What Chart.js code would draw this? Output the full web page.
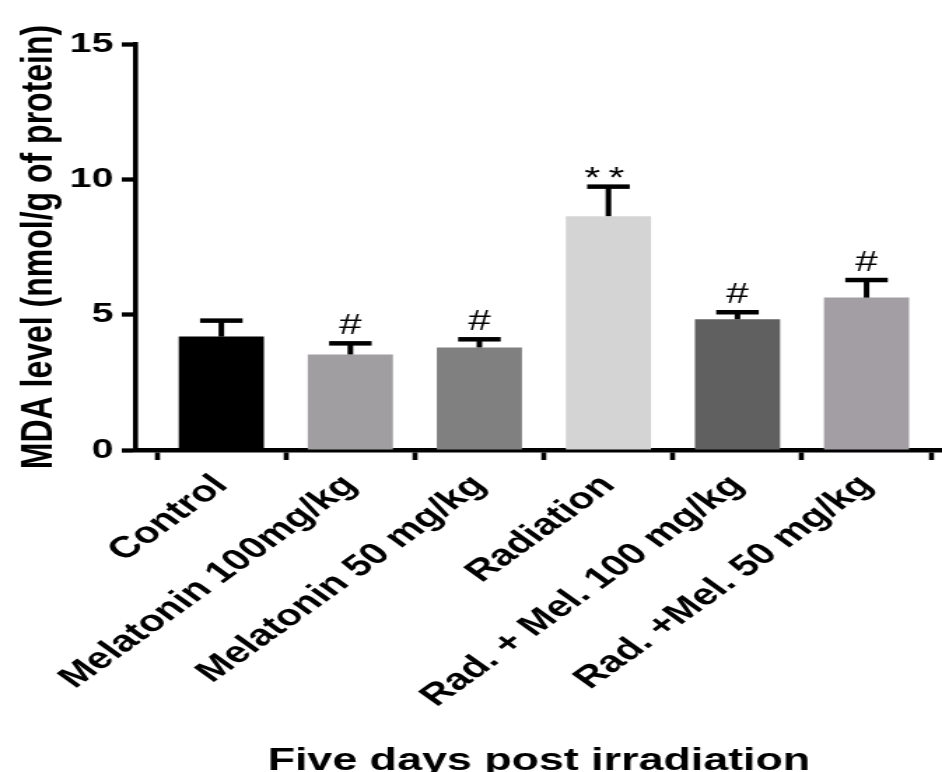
<!doctype html>
<html>
<head>
<meta charset="utf-8"/>
<title>MDA level</title>
<script src="https://cdn.jsdelivr.net/npm/chart.js@4.4.0/dist/chart.umd.min.js"></script>
<style>
  html,body{margin:0;padding:0;background:#fff;overflow:hidden}
  /* the figure is stretched horizontally, so draw narrow and scale it */
  .wrap{width:673px;height:772px;transform:scaleX(1.39970);transform-origin:0 0}
</style>
</head>
<body>
<div class="wrap"><canvas id="chart" width="673" height="772"></canvas></div>
<script>
  const categories = ['Control', 'Melatonin 100mg/kg', 'Melatonin 50 mg/kg', 'Radiation', 'Rad. + Mel. 100 mg/kg', 'Rad. +Mel. 50 mg/kg'];
  const means = [4.19, 3.53, 3.79, 8.64, 4.83, 5.63];
  const sem = [0.59, 0.41, 0.30, 1.09, 0.26, 0.65];
  const marks = ['', '#', '#', '**', '#', '#'];
  const barColors = ['#000000', '#a19ea2', '#808080', '#d4d4d4', '#606060', '#a29ea3'];
  const yTicks = [0, 5, 10, 15];

  const FONT = '"Liberation Sans", Arial, Helvetica, sans-serif';

  // SEM bars (upper only) and significance marks
  const errorBars = {
    id: 'errorBars',
    afterDatasetsDraw(chart) {
      const { ctx, scales: { y } } = chart;
      const meta = chart.getDatasetMeta(0);
      ctx.save();
      ctx.strokeStyle = '#000';
      ctx.fillStyle = '#000';
      means.forEach((m, i) => {
        const bar = meta.data[i];
        const px = bar.x;
        const yTop = y.getPixelForValue(m);
        const yCap = y.getPixelForValue(m + sem[i]);
        const half = bar.width / 4;
        ctx.lineWidth = 4;
        ctx.beginPath(); ctx.moveTo(px, yTop); ctx.lineTo(px, yCap); ctx.stroke();
        ctx.lineWidth = 4.5;
        ctx.beginPath(); ctx.moveTo(px - half, yCap); ctx.lineTo(px + half, yCap); ctx.stroke();
        if (marks[i]) {
          ctx.font = '29px ' + FONT;
          ctx.textAlign = 'center';
          ctx.textBaseline = 'alphabetic';
          ctx.letterSpacing = marks[i].length > 1 ? '6px' : '0px';
          const mt = ctx.measureText(marks[i]);
          ctx.fillText(marks[i], px, yCap - 9 - mt.actualBoundingBoxDescent);
        }
      });
      ctx.restore();
    }
  };

  new Chart(document.getElementById('chart'), {
    type: 'bar',
    data: {
      datasets: [{
        data: means.map((v, i) => ({ x: i, y: v })),
        backgroundColor: barColors,
        borderWidth: 0,
        barPercentage: 0.66,
        categoryPercentage: 1
      }]
    },
    options: {
      responsive: false,
      animation: false,
      devicePixelRatio: 1,
      layout: { padding: { top: 44, left: 0, right: 0, bottom: 0 } },
      plugins: { legend: { display: false }, tooltip: { enabled: false } },
      scales: {
        x: {
          type: 'linear',
          min: -0.663,
          max: 5.585,
          offset: false,
          afterBuildTicks: s => { s.ticks = categories.map((c, i) => ({ value: i })); },
          afterFit: s => { s.height = 322; },
          ticks: {
            callback: v => categories[v],
            autoSkip: false, maxRotation: 45, minRotation: 45,
            color: '#000', padding: 8,
            font: { family: FONT, size: 30, weight: 'bold' }
          },
          grid: { display: true, drawOnChartArea: false, drawTicks: true, tickLength: 10, tickWidth: 3.6, tickColor: '#000' },
          border: { display: true, color: '#000', width: 4.5 },
          title: {
            display: true, text: 'Five days post irradiation', color: '#000',
            font: { family: FONT, size: 32, weight: 'bold' },
            padding: { top: 0, bottom: -8 }
          }
        },
        y: {
          min: 0, max: 15,
          afterBuildTicks: s => { s.ticks = yTicks.map(v => ({ value: v })); },
          afterFit: s => { s.width = 97; },
          ticks: { color: '#000', padding: 6, font: { family: FONT, size: 28, weight: 'bold' } },
          grid: { display: true, drawOnChartArea: false, drawTicks: true, tickLength: 10, tickWidth: 4.3, tickColor: '#000' },
          border: { display: true, color: '#000', width: 3.6 },
          title: {
            display: true, text: 'MDA level (nmol/g of protein)', color: '#000',
            font: { family: FONT, size: 32, weight: 'bold' },
            padding: { top: 9, bottom: 0 }
          }
        }
      }
    },
    plugins: [errorBars]
  });
</script>
</body>
</html>
